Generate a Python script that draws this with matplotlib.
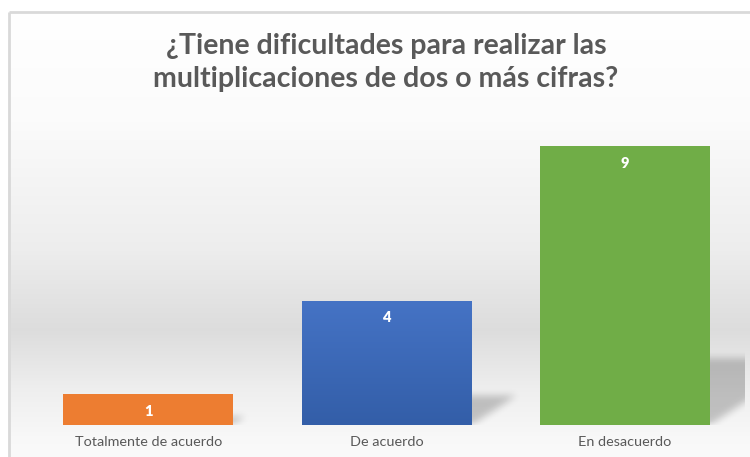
import numpy as np
import matplotlib
matplotlib.use("Agg")
import matplotlib.pyplot as plt
from matplotlib.colors import to_rgb

categories = ["Totalmente de acuerdo", "De acuerdo", "En desacuerdo"]
values = [1, 4, 9]
bar_colors = ["#ED7D31", "#4472C4", "#70AD47"]
title = "¿Tiene dificultades para realizar las\nmultiplicaciones de dos o más cifras?"

W, H = 750, 457
fig = plt.figure(figsize=(W / 100, H / 100), dpi=100)
fig.patch.set_facecolor("white")

# ---- chart-area background (gradient) ----
bg = fig.add_axes([0, 0, 1, 1], zorder=-5)
bg.set_xlim(0, W)
bg.set_ylim(H, 0)
bg.axis("off")
ys = np.linspace(11, H, 400)
stops_y = [11, 120, 250, 330, 390, 440, H]
stops_v = [1.0, 0.985, 0.93, 0.865, 0.935, 0.975, 0.98]
vals = np.interp(ys, stops_y, stops_v)
grad = np.repeat(vals[:, None], 2, axis=1)
bg.imshow(np.dstack([grad, grad, grad]), extent=(8, W, H, 11), aspect="auto",
          interpolation="bilinear")
bg.plot([8.5, 8.5], [H, 11.5], color="#d9d9d9", lw=2, solid_capstyle="butt")
bg.plot([8.5, W], [11.5, 11.5], color="#d9d9d9", lw=2, solid_capstyle="butt")

# ---- main axes ----
ax = fig.add_axes([29 / W, 32 / H, 715 / W, 310 / H])
ax.set_facecolor("none")
ax.set_xlim(-0.5, 2.5)
ax.set_ylim(0, 10)
for s in ax.spines.values():
    s.set_visible(False)
ax.set_yticks([])
x = np.arange(len(categories))
ax.set_xticks(x)
ax.set_xticklabels(categories, fontsize=10.4, color="#595959", family="Lato")
ax.tick_params(axis="x", length=0, pad=8)

width = 0.713
bars = ax.bar(x, values, width=width, color=bar_colors, zorder=3)


def box_blur(a, r, axis):
    k = 2 * r + 1
    pad = [(0, 0)] * a.ndim
    pad[axis] = (r + 1, r)
    ap = np.pad(a, pad, mode="constant")
    c = np.cumsum(ap, axis=axis)
    sl_hi = [slice(None)] * a.ndim
    sl_lo = [slice(None)] * a.ndim
    sl_hi[axis] = slice(k, None)
    sl_lo[axis] = slice(0, -k)
    return (c[tuple(sl_hi)] - c[tuple(sl_lo)]) / k


# ---- perspective shadows ----
px_x = 715 / 3.0   # pixels per x unit
px_y = 31.0        # pixels per y unit
for b, v in zip(bars, values):
    xl = b.get_x()
    xr = xl + b.get_width()
    t = 0.24 * v
    d = 0.36 * v * px_y / px_x
    x0, x1 = xr - 0.05, xr + d + 0.12
    y0, y1 = 0.0, t + 0.6
    nx = int((x1 - x0) * px_x)
    ny = int((y1 - y0) * px_y)
    gx = np.linspace(x0, x1, nx)
    gy = np.linspace(y1, y0, ny)
    X, Y = np.meshgrid(gx, gy)
    sh = (Y >= -1) & (Y <= t) & (X >= xl + d * Y / t) & (X <= xr + d * Y / t)
    m = sh.astype(float)
    for _ in range(3):
        m = box_blur(m, 3, 0)
        m = box_blur(m, 3, 1)
    alpha = 0.21 * m
    img = np.zeros((ny, nx, 4))
    img[..., 3] = alpha
    ax.imshow(img, extent=(x0, x1, y0, y1), aspect="auto", zorder=2,
              interpolation="bilinear")

# blue bar gradient
bb = bars[1]
top_c = np.array(to_rgb("#4573C5"))
bot_c = np.array(to_rgb("#335EA8"))
tt = np.linspace(0, 1, 200)[:, None]
gimg = (top_c * (1 - tt) + bot_c * tt)[:, None, :].repeat(2, axis=1)
im = ax.imshow(gimg, extent=(bb.get_x(), bb.get_x() + bb.get_width(), 0, bb.get_height()),
               aspect="auto", zorder=3.5, interpolation="bilinear")
im.set_clip_path(bb)

ax.set_xlim(-0.5, 2.5)
ax.set_ylim(0, 10)

# value labels
for xi, v in zip(x, values):
    ax.annotate(str(v), (xi, v), xytext=(0, -17), textcoords="offset pixels",
                ha="center", va="center", color="white", fontsize=10.5,
                fontweight="heavy", family="Lato", zorder=5)

fig.text(386 / W, 1 - 62.5 / H, title, ha="center", va="center", fontsize=20.5,
         fontweight="bold", color="#595959", family="Lato", linespacing=1.3)

fig.savefig("out.png", dpi=100)
